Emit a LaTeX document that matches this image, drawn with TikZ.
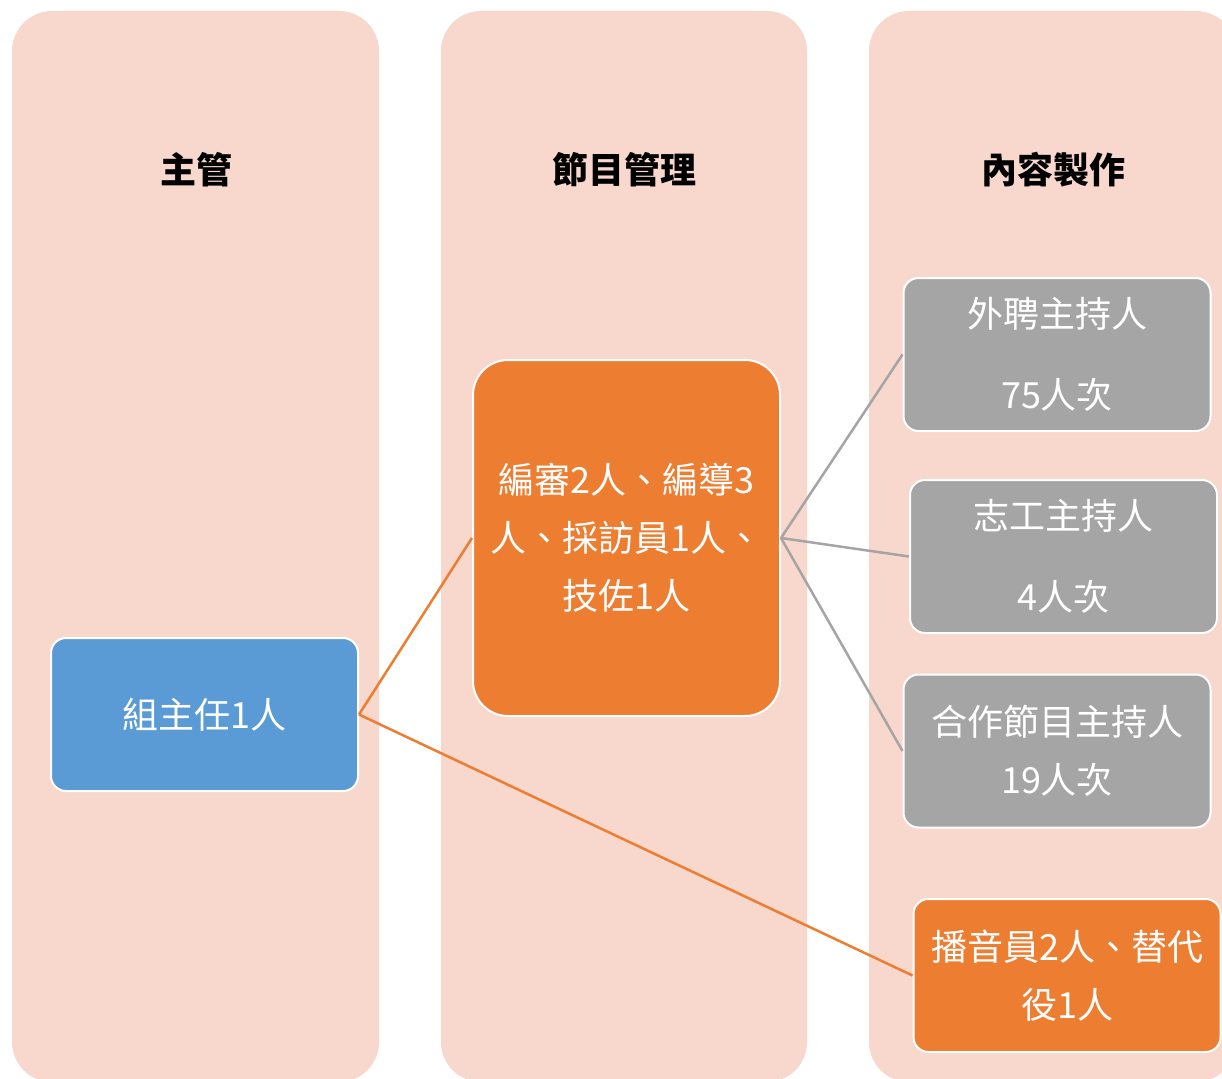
\documentclass[tikz,border=0pt]{standalone}
\usepackage{fontspec}
\setmainfont{Noto Sans CJK TC}
\definecolor{ColClr}{HTML}{F8D7CC}
\definecolor{LeadClr}{HTML}{5B9BD5}
\definecolor{StaffClr}{HTML}{ED7D31}
\definecolor{HostClr}{HTML}{A5A5A5}

\begin{document}
\begin{tikzpicture}[x=1pt,y=-1pt,
  colbox/.style={fill=ColClr,rounded corners=40pt},
  head/.style={font=\fontsize{36}{43}\selectfont\bfseries},
  item/.style={draw=white,line width=2pt,rounded corners=15pt,text=white,align=center,
    minimum width=307pt,minimum height=153pt,inner sep=0pt,font=\fontsize{36}{58}\selectfont},
  wide/.style={font=\fontsize{36}{81}\selectfont},
  link/.style={line width=2.5pt}]
\useasboundingbox (0,0) rectangle (1222,1078);

% Draw the three columns.
\fill[colbox] (12,11) rectangle (379,1082);
\fill[colbox] (441,11) rectangle (807,1082);
\fill[colbox] (869,11) rectangle (1236,1082);

\node[head] (H1) at (196,170) {主管};
\node[head] (H2) at (624,170) {節目管理};
\node[head] (H3) at (1053,170) {內容製作};

% Boxes in each column.
\node[item,fill=LeadClr] (Lead) at (204.5,714.5) {組主任1人};
\node[item,fill=StaffClr,minimum height=356pt,rounded corners=35pt] (Prog) at (626.5,538)
  {編審2人、編導3\\人、採訪員1人、\\技佐1人};
\node[item,wide,fill=HostClr] (HostA) at (1057,354.5) {外聘主持人\\75人次};
\node[item,wide,fill=HostClr] (HostB) at (1063.5,556.5) {志工主持人\\4人次};
\node[item,fill=HostClr] (HostC) at (1057,751) {合作節目主持人\\19人次};
\node[item,fill=StaffClr] (Cast) at (1067,975.5) {播音員2人、替代\\役1人};

% Connect the boxes.
\draw[link,StaffClr] (Lead.east) -- (Prog.west);
\draw[link,StaffClr] (Lead.east) -- (Cast.west);
\draw[link,HostClr] (Prog.east) -- (HostA.west);
\draw[link,HostClr] (Prog.east) -- (HostB.west);
\draw[link,HostClr] (Prog.east) -- (HostC.west);

\end{tikzpicture}
\end{document}
